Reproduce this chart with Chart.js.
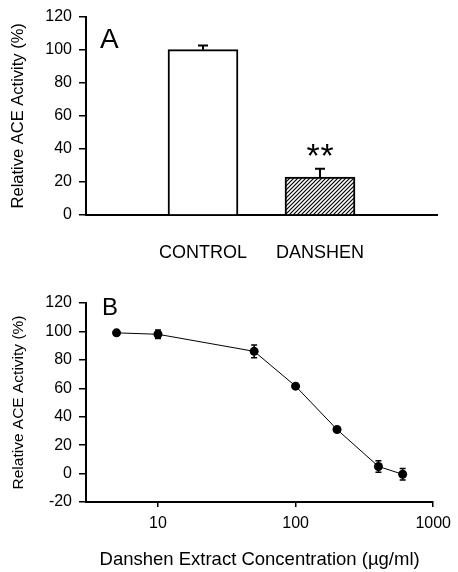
<!DOCTYPE html>
<html>
<head>
<meta charset="utf-8">
<script src="https://cdn.jsdelivr.net/npm/chart.js@4/dist/chart.umd.min.js"></script>
<style>
  html, body { margin: 0; padding: 0; background: #fff; }
  body { width: 458px; height: 572px; position: relative; overflow: hidden; }
  .box { position: absolute; left: 0; width: 458px; }
  #boxA { top: 0; height: 272px; }
  #boxB { top: 272px; height: 300px; }
</style>
</head>
<body>
<div class="box" id="boxA"><canvas id="chartA"></canvas></div>
<div class="box" id="boxB"><canvas id="chartB"></canvas></div>
<script>
// ---------- data ----------
const categories = ['CONTROL', 'DANSHEN'];
const activityA = [100, 23];
const errorA = [2.5, 5];
const yTicksA = [0, 20, 40, 60, 80, 100, 120];

const concentrations = [5, 10, 50, 100, 200, 400, 600];
const activityB = [99, 98, 86, 61.5, 31, 5, -0.5];
const errorB = [1, 3, 4.5, 1.5, 1.5, 4, 4];
const yTicksB = [-20, 0, 20, 40, 60, 80, 100, 120];
const xTicksB = [10, 100, 1000];

const yTitle = 'Relative ACE Activity (%)';
const xTitleB = 'Danshen Extract Concentration (\u00b5g/ml)';
const FONT = '"Liberation Sans", Arial, sans-serif';

Chart.defaults.font.family = FONT;
Chart.defaults.color = '#000';
Chart.defaults.animation = false;

function hatchPattern(ctx) {
  const c = document.createElement('canvas');
  c.width = 4; c.height = 4;
  const g = c.getContext('2d');
  g.fillStyle = '#fff'; g.fillRect(0, 0, 4, 4);
  g.strokeStyle = '#000'; g.lineWidth = 1.2;
  g.beginPath();
  g.moveTo(0, 4); g.lineTo(4, 0);
  g.moveTo(-1, 1); g.lineTo(1, -1);
  g.moveTo(3, 5); g.lineTo(5, 3);
  g.stroke();
  return ctx.createPattern(c, 'repeat');
}

// ---------- Panel A ----------
const ctxA = document.getElementById('chartA').getContext('2d');
const panelAPlugin = {
  id: 'panelA',
  afterDatasetsDraw(chart) {
    const { ctx, scales: { x, y } } = chart;
    ctx.save();
    ctx.strokeStyle = '#000';
    ctx.lineWidth = 2;
    activityA.forEach((v, i) => {
      const px = x.getPixelForValue(i + 1);
      const y0 = y.getPixelForValue(v);
      const y1 = y.getPixelForValue(v + errorA[i]);
      ctx.beginPath();
      ctx.moveTo(px, y0); ctx.lineTo(px, y1);
      ctx.moveTo(px - 5, y1); ctx.lineTo(px + 5, y1);
      ctx.stroke();
    });
    // significance marker
    ctx.fillStyle = '#000';
    ctx.font = '34px ' + FONT;
    ctx.textAlign = 'center';
    ctx.textBaseline = 'alphabetic';
    const sx = x.getPixelForValue(2);
    const sy = y.getPixelForValue(40.5) + 19;
    ctx.fillText('*', sx - 7, sy);
    ctx.fillText('*', sx + 7, sy);
    // panel letter
    ctx.font = '28px ' + FONT;
    ctx.textAlign = 'left';
    ctx.fillText('A', 100, 48);
    ctx.restore();
  }
};

new Chart(ctxA, {
  type: 'bar',
  data: {
    datasets: [{
      data: activityA.map((v, i) => ({ x: i + 1, y: v })),
      backgroundColor: ['#ffffff', hatchPattern(ctxA)],
      borderColor: '#000',
      borderWidth: 2,
      borderSkipped: 'start',
      barThickness: 70
    }]
  },
  options: {
    responsive: true,
    maintainAspectRatio: false,
    layout: { padding: { top: 16, right: 21, bottom: 0, left: 0 } },
    plugins: { legend: { display: false }, tooltip: { enabled: false } },
    scales: {
      x: {
        type: 'linear',
        min: 0, max: 3,
        offset: false,
        afterBuildTicks(s) { s.ticks = categories.map((c, i) => ({ value: i + 1 })); },
        afterFit(s) { s.height = 57; },
        ticks: {
          callback: (v) => categories[v - 1] || '',
          font: { size: 18 }, color: '#000', padding: 27, maxRotation: 0
        },
        grid: { display: true, drawOnChartArea: false, drawTicks: false, offset: false },
        border: { display: true, color: '#000', width: 2 }
      },
      y: {
        min: 0, max: 120,
        afterBuildTicks(s) { s.ticks = yTicksA.map(v => ({ value: v })); },
        afterFit(s) { s.width = 86; },
        ticks: { font: { size: 16 }, color: '#000', padding: 7 },
        grid: { drawOnChartArea: false, drawTicks: true, tickLength: 7, color: '#000', lineWidth: 1.5 },
        border: { display: true, color: '#000', width: 2 },
        title: { display: true, text: yTitle, font: { size: 16.5 }, color: '#000', padding: { top: 9, bottom: 0 } }
      }
    }
  },
  plugins: [panelAPlugin]
});

// ---------- Panel B ----------
const ctxB = document.getElementById('chartB').getContext('2d');
const panelBPlugin = {
  id: 'panelB',
  beforeDatasetsDraw(chart) {
    const { ctx, scales: { x, y } } = chart;
    ctx.save();
    ctx.strokeStyle = '#000';
    ctx.lineWidth = 1.5;
    concentrations.forEach((c, i) => {
      const px = x.getPixelForValue(c);
      const yTop = y.getPixelForValue(activityB[i] + errorB[i]);
      const yBot = y.getPixelForValue(activityB[i] - errorB[i]);
      ctx.beginPath();
      ctx.moveTo(px, yTop); ctx.lineTo(px, yBot);
      ctx.moveTo(px - 3, yTop); ctx.lineTo(px + 3, yTop);
      ctx.moveTo(px - 3, yBot); ctx.lineTo(px + 3, yBot);
      ctx.stroke();
    });
    ctx.restore();
  },
  afterDraw(chart) {
    const { ctx } = chart;
    ctx.save();
    ctx.fillStyle = '#000';
    ctx.font = '24px ' + FONT;
    ctx.textAlign = 'left';
    ctx.textBaseline = 'alphabetic';
    ctx.fillText('B', 102, 43);
    ctx.restore();
  }
};

new Chart(ctxB, {
  type: 'line',
  data: {
    datasets: [{
      data: concentrations.map((c, i) => ({ x: c, y: activityB[i] })),
      borderColor: '#000',
      borderWidth: 1,
      backgroundColor: '#000',
      pointBackgroundColor: '#000',
      pointBorderColor: '#000',
      pointRadius: 4.5,
      pointBorderWidth: 0,
      tension: 0,
      clip: false
    }]
  },
  options: {
    responsive: true,
    maintainAspectRatio: false,
    layout: { padding: { top: 31, right: 21, bottom: 0, left: 0 } },
    plugins: { legend: { display: false }, tooltip: { enabled: false } },
    scales: {
      x: {
        type: 'logarithmic',
        min: 3, max: 1000,
        afterBuildTicks(s) { s.ticks = xTicksB.map(v => ({ value: v })); },
        afterFit(s) { s.height = 70; },
        ticks: { callback: (v) => String(v), font: { size: 16 }, color: '#000', padding: 7, maxRotation: 0 },
        grid: { drawOnChartArea: false, drawTicks: true, tickLength: 5, color: '#000', lineWidth: 1.5 },
        border: { display: true, color: '#000', width: 2 },
        title: { display: true, text: xTitleB, font: { size: 18.5 }, color: '#000', padding: { top: 0, bottom: 1 } }
      },
      y: {
        min: -20, max: 120,
        afterBuildTicks(s) { s.ticks = yTicksB.map(v => ({ value: v })); },
        afterFit(s) { s.width = 86; },
        ticks: { font: { size: 16 }, color: '#000', padding: 7 },
        grid: { drawOnChartArea: false, drawTicks: true, tickLength: 7, color: '#000', lineWidth: 1.5 },
        border: { display: true, color: '#000', width: 2 },
        title: { display: true, text: yTitle, font: { size: 15.5 }, color: '#000', padding: { top: 9, bottom: 0 } }
      }
    }
  },
  plugins: [panelBPlugin]
});
</script>
</body>
</html>
